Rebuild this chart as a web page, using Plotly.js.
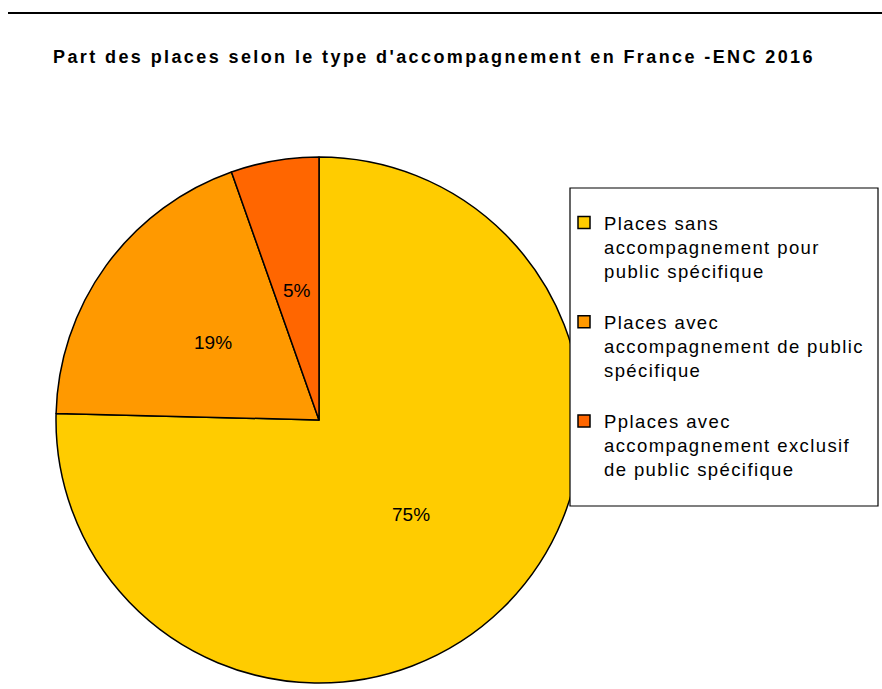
<!DOCTYPE html>
<html>
<head>
<meta charset="utf-8">
<script src="https://cdn.plot.ly/plotly-3.0.1.min.js"></script>
<style>
  html, body { margin: 0; padding: 0; background: #ffffff; }
  #chart { width: 882px; height: 689px; }
  .legendtext { letter-spacing: 1.4px; }
  .gtitle { letter-spacing: 2.4px; }
</style>
</head>
<body>
<div id="chart"></div>
<script>
// ---- Data ----
const categories = [
  "Places sans<br>accompagnement pour<br>public spécifique<br>\u00a0",
  "Places avec<br>accompagnement de public<br>spécifique<br>\u00a0",
  "Pplaces avec<br>accompagnement exclusif<br>de public spécifique<br>\u00a0"
];
const shares = [75.4, 19.2, 5.4];
const pctLabels = ["75%", "19%", "5%"];
const sliceColors = ["#FFCC00", "#FF9900", "#FF6600"];
const chartTitle = "Part des places selon le type d'accompagnement en France -ENC 2016";

// ---- Layout geometry ----
const W = 882, H = 689;
const dom = { x: [55 / W, 583 / W], y: [1 - 683 / H, 1 - 157 / H] };

// label positions computed from the data (mid-angle of each slice, half radius)
const cxPx = (dom.x[0] + dom.x[1]) / 2 * W;
const cyPx = (1 - (dom.y[0] + dom.y[1]) / 2) * H;
const rPx = Math.min((dom.x[1] - dom.x[0]) * W, (dom.y[1] - dom.y[0]) * H) / 2;
const total = shares.reduce((a, b) => a + b, 0);
let cum = 0;
const annotations = shares.map((v, i) => {
  const mid = (cum + v / 2) / total;
  cum += v;
  const th = 2 * Math.PI * mid;
  const px = cxPx + 0.5 * rPx * Math.sin(th);
  const py = cyPx - 0.5 * rPx * Math.cos(th);
  return {
    text: pctLabels[i], x: px / W, y: 1 - py / H, xref: "paper", yref: "paper",
    showarrow: false, xanchor: "center", yanchor: "middle",
    font: { family: "Liberation Sans, Arial, sans-serif", size: 19, color: "#000000" }
  };
});

const trace = {
  type: "pie",
  labels: categories,
  values: shares,
  sort: false,
  direction: "clockwise",
  rotation: 0,
  textinfo: "none",
  hoverinfo: "label+percent",
  marker: { colors: sliceColors, line: { color: "#000000", width: 1.5 } },
  domain: dom
};

const layout = {
  width: W, height: H,
  margin: { l: 0, r: 0, t: 0, b: 0 },
  paper_bgcolor: "#ffffff",
  title: {
    text: chartTitle,
    x: 53 / W, xanchor: "left", xref: "container",
    y: 1 - 57 / H, yanchor: "middle", yref: "container",
    font: { family: "Liberation Sans, Arial, sans-serif", size: 18, weight: "bold", color: "#000000" }
  },
  showlegend: true,
  legend: {
    x: 564 / W, xanchor: "left",
    y: 1 - 204 / H, yanchor: "top",
    valign: "top",
    bgcolor: "rgba(0,0,0,0)",
    borderwidth: 0,
    font: { family: "Liberation Sans, Arial, sans-serif", size: 18.5, color: "#000000" }
  },
  shapes: [
    { type: "line", xref: "paper", yref: "paper", x0: 8 / W, x1: 1, y0: 1 - 13 / H, y1: 1 - 13 / H,
      line: { color: "#000000", width: 2 } },
    { type: "rect", layer: "above", xref: "paper", yref: "paper", x0: 570 / W, x1: 878 / W, y0: 1 - 506 / H, y1: 1 - 188 / H,
      line: { color: "#000000", width: 1.2 }, fillcolor: "#ffffff" }
  ],
  annotations: annotations
};

Plotly.newPlot("chart", [trace], layout, { displayModeBar: false, staticPlot: true });
</script>
</body>
</html>
